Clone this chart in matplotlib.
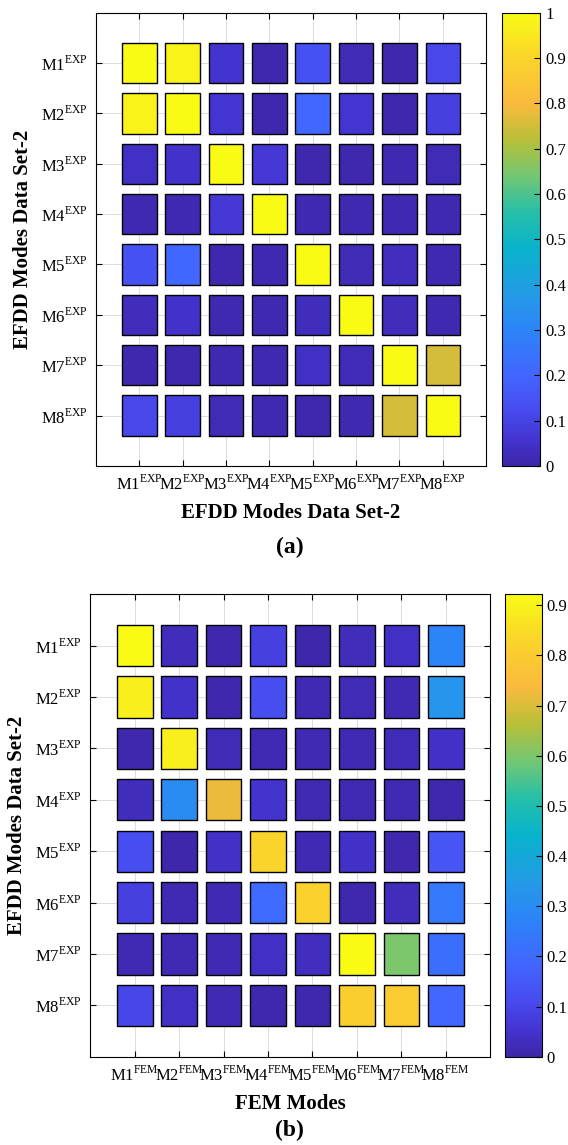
import numpy as np
import matplotlib
matplotlib.use("Agg")
import matplotlib.pyplot as plt
from matplotlib.colors import LinearSegmentedColormap, Normalize
from matplotlib.cm import ScalarMappable

plt.rcParams['font.family'] = ['Liberation Serif', 'DejaVu Serif']
plt.rcParams['mathtext.fontset'] = 'custom'
plt.rcParams['mathtext.rm'] = 'Liberation Serif'

# mode names
modes = ['M1', 'M2', 'M3', 'M4', 'M5', 'M6', 'M7', 'M8']

# MAC EFDD set-2 vs itself (rows = y modes, cols = x modes)
mac_a = [
    [1.00, 0.98, 0.055, 0.010, 0.140, 0.020, 0.010, 0.110],
    [0.98, 1.00, 0.060, 0.010, 0.210, 0.060, 0.010, 0.090],
    [0.04, 0.05, 1.000, 0.070, 0.010, 0.010, 0.015, 0.020],
    [0.015, 0.015, 0.070, 1.000, 0.015, 0.015, 0.015, 0.015],
    [0.14, 0.21, 0.010, 0.015, 1.000, 0.020, 0.035, 0.015],
    [0.03, 0.05, 0.015, 0.015, 0.030, 1.000, 0.030, 0.015],
    [0.01, 0.01, 0.015, 0.015, 0.040, 0.025, 1.000, 0.750],
    [0.11, 0.09, 0.020, 0.015, 0.010, 0.015, 0.750, 1.000],
]

# MAC EFDD set-2 vs FEM
mac_b = [
    [0.920, 0.028, 0.010, 0.083, 0.005, 0.028, 0.037, 0.280],
    [0.890, 0.046, 0.010, 0.120, 0.015, 0.020, 0.015, 0.330],
    [0.010, 0.890, 0.020, 0.015, 0.015, 0.015, 0.025, 0.040],
    [0.028, 0.300, 0.720, 0.050, 0.015, 0.015, 0.015, 0.010],
    [0.120, 0.005, 0.040, 0.830, 0.015, 0.040, 0.010, 0.140],
    [0.083, 0.015, 0.015, 0.200, 0.820, 0.010, 0.028, 0.240],
    [0.015, 0.015, 0.015, 0.037, 0.030, 0.922, 0.600, 0.210],
    [0.100, 0.037, 0.015, 0.010, 0.010, 0.810, 0.800, 0.190],
]

# approximate MATLAB parula
parula_pts = [
    (0.00, (0.2422, 0.1504, 0.6603)),
    (0.06, (0.2691, 0.2094, 0.8249)),
    (0.12, (0.2810, 0.2930, 0.9350)),
    (0.20, (0.2586, 0.4000, 0.9990)),
    (0.30, (0.1700, 0.5200, 0.9700)),
    (0.38, (0.1400, 0.6100, 0.9000)),
    (0.48, (0.0300, 0.7000, 0.8000)),
    (0.56, (0.1500, 0.7500, 0.6600)),
    (0.64, (0.4500, 0.7800, 0.4500)),
    (0.72, (0.7200, 0.7500, 0.2200)),
    (0.80, (0.9800, 0.7300, 0.2400)),
    (0.90, (0.9800, 0.8300, 0.1700)),
    (1.00, (0.9769, 0.9839, 0.0805)),
]
parula = LinearSegmentedColormap.from_list('parula', parula_pts)


def draw_mac(fig, ax_rect, cb_rect, mac, col_sup, xlabel, tag, vmax, tag_y):
    ax = fig.add_axes(ax_rect)
    cax = fig.add_axes(cb_rect)
    mac = np.array(mac)
    norm = Normalize(0, vmax)
    n = len(modes)
    xs = np.arange(1, n + 1)
    for i in range(n):
        ax.bar(xs, 0.8, bottom=i + 1 - 0.4, width=0.8,
               color=parula(norm(mac[i])), edgecolor='black', linewidth=1.0,
               zorder=3)
    ax.set_xlim(0, n + 1)
    ax.set_ylim(n + 1, 0)
    ax.set_xticks(xs)
    ax.set_yticks(xs)
    ax.set_xticklabels([m + r'$^{\mathrm{' + col_sup + '}}$' for m in modes], fontsize=12)
    ax.set_yticklabels([m + r'$^{\mathrm{EXP}}$' for m in modes], fontsize=12)
    ax.tick_params(direction='in', length=4, width=0.8, top=True, right=True, pad=6)
    ax.grid(True, color='#dcdcdc', linewidth=0.7, zorder=0)
    ax.set_axisbelow(True)
    for s in ax.spines.values():
        s.set_linewidth(0.8)
    ax.set_xlabel(xlabel, fontsize=15, fontweight='bold', labelpad=7)
    ax.set_ylabel('EFDD Modes Data Set-2', fontsize=15, fontweight='bold', labelpad=6)
    fig.text(0.51, tag_y, tag, fontsize=17, fontweight='bold', ha='center', va='center')

    cb = fig.colorbar(ScalarMappable(norm=norm, cmap=parula), cax=cax)
    ticks = np.round(np.arange(0, vmax + 1e-6, 0.1), 1)
    cb.set_ticks(ticks)
    cb.set_ticklabels(['0' if t == 0 else ('1' if t == 1 else f'{t:g}') for t in ticks])
    cb.ax.tick_params(labelsize=12, direction='in', length=4, width=0.8)
    cb.outline.set_linewidth(0.8)


fig = plt.figure(figsize=(5.68, 11.45), dpi=100)

draw_mac(fig, [0.169, 0.593, 0.687, 0.396], [0.884, 0.593, 0.067, 0.396],
         mac_a, 'EXP', 'EFDD Modes Data Set-2', '(a)', 1.0, 0.522)
draw_mac(fig, [0.159, 0.077, 0.704, 0.404], [0.889, 0.077, 0.065, 0.404],
         mac_b, 'FEM', 'FEM Modes', '(b)', 0.922, 0.013)

fig.savefig('out.png', dpi=100)
